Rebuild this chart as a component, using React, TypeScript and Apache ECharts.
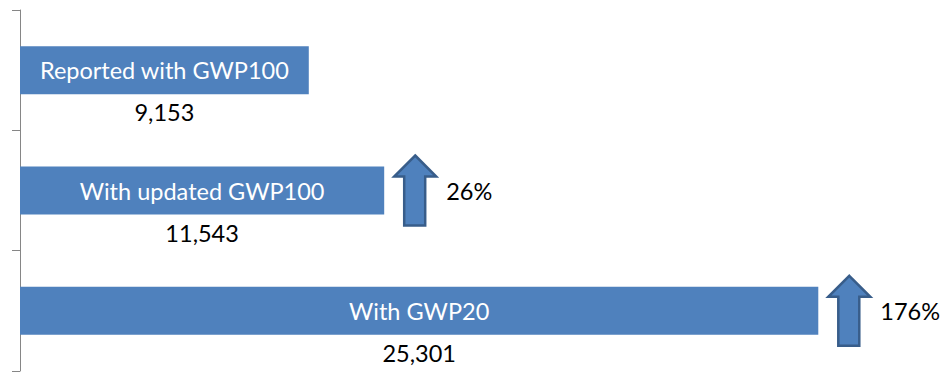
import React, { useEffect, useRef } from "react";
import * as echarts from "echarts";

const categories = ["Reported with GWP100", "With updated GWP100", "With GWP20"];
const values = [9153, 11543, 25301];
const changeLabels = ["", "26%", "176%"];

const FONT = "Lato";
const FS = 23.5;

export default function App() {
  const ref = useRef<HTMLDivElement>(null);
  useEffect(() => {
    if (!ref.current) return;
    const chart = echarts.init(ref.current, undefined, { renderer: "svg" });
    const arrowData = values
      .map((v, i) => [v, i, changeLabels[i]])
      .filter((d) => d[2] !== "");
    chart.setOption({
      animation: false,
      grid: { left: 20, top: 10, width: 915, height: 361 },
      xAxis: { type: "value", min: 0, max: 29000, show: false },
      yAxis: {
        type: "category",
        data: categories,
        inverse: true,
        axisLine: { show: true, lineStyle: { color: "#868686", width: 1 } },
        axisTick: { show: true, length: 8, lineStyle: { color: "#868686" } },
        axisLabel: { show: false },
      },
      series: [
        {
          type: "bar",
          data: values,
          barWidth: 48,
          itemStyle: { color: "#4f81bd" },
          label: {
            show: true,
            position: "inside",
            formatter: "{b}",
            color: "#ffffff",
            fontFamily: FONT,
            fontSize: FS,
          },
          z: 2,
        },
        {
          type: "bar",
          data: values,
          barWidth: 48,
          barGap: "-100%",
          itemStyle: { color: "rgba(0,0,0,0)" },
          label: {
            show: true,
            position: "bottom",
            distance: 6,
            formatter: (p: any) => Number(p.value).toLocaleString("en-US"),
            color: "#000000",
            fontFamily: FONT,
            fontSize: FS,
          },
          z: 1,
        },
        {
          type: "custom",
          data: arrowData,
          encode: { x: 0, y: 1 },
          z: 3,
          renderItem: (params: any, api: any) => {
            const p = api.coord([api.value(0), api.value(1)]);
            const x0 = p[0] + 10;
            const cy = p[1];
            const top = cy - 35;
            const bottom = cy + 35;
            const head = cy - 14;
            const label = arrowData[params.dataIndex][2] as string;
            return {
              type: "group",
              children: [
                {
                  type: "polygon",
                  shape: {
                    points: [
                      [x0 + 21, top],
                      [x0 + 42, head],
                      [x0 + 31, head],
                      [x0 + 31, bottom],
                      [x0 + 10, bottom],
                      [x0 + 10, head],
                      [x0, head],
                    ],
                  },
                  style: { fill: "#4f81bd", stroke: "#385d8a", lineWidth: 2.5 },
                },
                {
                  type: "text",
                  style: {
                    text: label,
                    x: x0 + 52,
                    y: cy,
                    verticalAlign: "middle",
                    align: "left",
                    fill: "#000000",
                    font: `${FS}px ${FONT}`,
                  },
                },
              ],
            };
          },
        },
      ],
    });
    return () => chart.dispose();
  }, []);
  return (
    <div
      ref={ref}
      style={{ position: "absolute", left: 0, top: 0, width: 947, height: 383 }}
    />
  );
}
